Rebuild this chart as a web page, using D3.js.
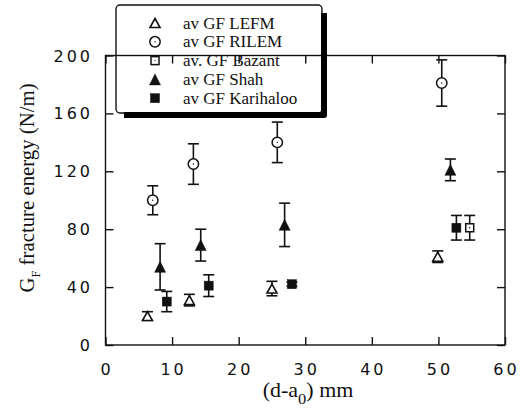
<!DOCTYPE html>
<html>
<head>
<meta charset="utf-8">
<script src="https://cdn.jsdelivr.net/npm/d3@7/dist/d3.min.js"></script>
<style>
  html, body { margin: 0; padding: 0; background: #fff; }
  svg { display: block; }
  .tick-label { font-family: "DejaVu Sans", sans-serif; font-size: 16px; letter-spacing: 3px; fill: #111; }
  .serif { font-family: "Liberation Serif", "Times New Roman", serif; fill: #111; }
</style>
</head>
<body>
<svg id="chart" width="523" height="409"></svg>
<script>
// Fracture energy G_F (N/m) versus ligament length (d - a0) in mm.
// Each point: [ligament mm, mean G_F, half-length of error bar]
const lefm      = [[6.3, 20, 3], [12.6, 31, 4], [25.0, 39, 5], [49.9, 61, 4]];
const rilem     = [[7.1, 100, 10], [13.2, 125, 14], [25.8, 140, 14], [50.5, 181, 16]];
const bazant    = [[54.7, 81, 8.5]];
const shah      = [[8.2, 54, 16], [14.3, 69, 11], [26.9, 83, 15], [51.8, 121, 7.5]];
const karihaloo = [[9.2, 30, 7], [15.5, 41, 7.5], [28.0, 42, 1.5], [52.7, 81, 8.5]];

const seriesNames = ["av GF LEFM", "av GF RILEM", "av. GF Bazant", "av GF Shah", "av GF Karihaloo"];
const xTicks = [0, 10, 20, 30, 40, 50, 60];
const yTicks = [0, 40, 80, 120, 160, 200];

const series = [
  { name: seriesNames[0], data: lefm,      shape: "triangle", filled: false },
  { name: seriesNames[1], data: rilem,     shape: "circle",   filled: false },
  { name: seriesNames[2], data: bazant,    shape: "square",   filled: false },
  { name: seriesNames[3], data: shah,      shape: "triangle", filled: true },
  { name: seriesNames[4], data: karihaloo, shape: "square",   filled: true }
];

const svg = d3.select("#chart");
const plot = { left: 105.5, right: 505, top: 55.5, bottom: 345 };

const x = d3.scaleLinear().domain([0, 60]).range([plot.left, plot.right]);
const y = d3.scaleLinear().domain([0, 200]).range([plot.bottom, plot.top]);

const ink = "#111";

// Frame with inward ticks on all four sides
const tickLen = 8;
const axes = svg.append("g").attr("stroke", ink).attr("fill", "none");
axes.append("rect")
  .attr("x", plot.left).attr("y", plot.top)
  .attr("width", plot.right - plot.left).attr("height", plot.bottom - plot.top)
  .attr("stroke-width", 1.4);

const bottomAxis = d3.axisBottom(x).tickValues(xTicks).tickSize(-tickLen).tickFormat("");
const topAxis = d3.axisTop(x).tickValues(xTicks).tickSize(-tickLen).tickFormat("");
const leftAxis = d3.axisLeft(y).tickValues(yTicks).tickSize(-tickLen).tickFormat("");
const rightAxis = d3.axisRight(y).tickValues(yTicks).tickSize(-tickLen).tickFormat("");

function styleAxis(g) {
  g.select(".domain").remove();
  g.selectAll(".tick line").attr("stroke", ink).attr("stroke-width", 1.4);
}
svg.append("g").attr("transform", `translate(0,${plot.bottom})`).call(bottomAxis).call(styleAxis);
svg.append("g").attr("transform", `translate(0,${plot.top})`).call(topAxis).call(styleAxis);
svg.append("g").attr("transform", `translate(${plot.left},0)`).call(leftAxis).call(styleAxis);
svg.append("g").attr("transform", `translate(${plot.right},0)`).call(rightAxis).call(styleAxis);

// Tick labels
svg.append("g").selectAll("text").data(xTicks).join("text")
  .attr("class", "tick-label")
  .attr("x", d => x(d) + 1.5)
  .attr("y", 375)
  .attr("text-anchor", "middle")
  .text(d => d);

svg.append("g").selectAll("text").data(yTicks).join("text")
  .attr("class", "tick-label")
  .attr("x", 93)
  .attr("y", d => y(d) + 6)
  .attr("text-anchor", "end")
  .text(d => d);

// Axis titles
const xTitle = svg.append("text").attr("class", "serif")
  .attr("transform", "translate(308,397) scale(1.1,1)")
  .attr("text-anchor", "middle").style("font-size", "20px");
xTitle.append("tspan").text("(d-a");
xTitle.append("tspan").attr("dy", 7).style("font-size", "15px").text("0");
xTitle.append("tspan").attr("dy", -7).text(") mm");

const yTitle = svg.append("text").attr("class", "serif")
  .attr("transform", "translate(34,188) rotate(-90) scale(1.04,1)")
  .attr("text-anchor", "middle").style("font-size", "20px");
yTitle.append("tspan").text("G");
yTitle.append("tspan").attr("dy", 6).style("font-size", "12px").text("F");
yTitle.append("tspan").attr("dy", -6).text(" fracture energy (N/m)");

// Marker drawing
function drawMarker(g, shape, filled, cx, cy) {
  const fill = filled ? ink : "#fff";
  if (shape === "circle") {
    g.append("circle").attr("cx", cx).attr("cy", cy).attr("r", 5.2)
      .attr("fill", fill).attr("stroke", ink).attr("stroke-width", 1.5);
    g.append("circle").attr("cx", cx).attr("cy", cy).attr("r", 0.7).attr("fill", ink);
  } else if (shape === "square") {
    const s = filled ? 9 : 8;
    g.append("rect").attr("x", cx - s / 2).attr("y", cy - s / 2).attr("width", s).attr("height", s)
      .attr("fill", fill).attr("stroke", ink).attr("stroke-width", filled ? 0.5 : 1.5);
    if (!filled) g.append("circle").attr("cx", cx).attr("cy", cy).attr("r", 0.7).attr("fill", ink);
  } else {
    const h = filled ? 11 : 9, w = filled ? 11 : 10;
    const pts = [[cx, cy - h / 2], [cx + w / 2, cy + h / 2], [cx - w / 2, cy + h / 2]];
    g.append("path").attr("d", d3.line()(pts) + "Z")
      .attr("fill", fill).attr("stroke", ink).attr("stroke-width", filled ? 0.5 : 1.6)
      .attr("stroke-linejoin", "miter");
  }
}

// Error bars and points
const marks = svg.append("g");
const capHalf = 5.5;
series.forEach(s => {
  s.data.forEach(([dx, dy, e]) => {
    const g = marks.append("g");
    const cx = x(dx), yTop = y(dy + e), yBot = y(dy - e);
    g.append("line").attr("x1", cx).attr("x2", cx).attr("y1", yTop).attr("y2", yBot)
      .attr("stroke", ink).attr("stroke-width", 1.6);
    [yTop, yBot].forEach(yy => g.append("line")
      .attr("x1", cx - capHalf).attr("x2", cx + capHalf).attr("y1", yy).attr("y2", yy)
      .attr("stroke", ink).attr("stroke-width", 1.6));
    drawMarker(g, s.shape, s.filled, cx, y(dy));
  });
});

// Legend box: thin rounded outline with a heavy shadow along the right and bottom
const lg = svg.append("g");
const box = { x: 116, y: 5, w: 206, h: 108 };
lg.append("rect").attr("x", box.x).attr("y", box.y).attr("width", box.w).attr("height", box.h)
  .attr("rx", 4).attr("fill", "none").attr("stroke", ink).attr("stroke-width", 1.4);
const shadow = d3.path();
shadow.moveTo(box.x + box.w + 2, box.y + 8);
shadow.lineTo(box.x + box.w + 2, box.y + box.h + 2);
shadow.lineTo(box.x + 8, box.y + box.h + 2);
lg.append("path").attr("d", shadow.toString())
  .attr("fill", "none").attr("stroke", "#000").attr("stroke-width", 6)
  .attr("stroke-linejoin", "round").attr("stroke-linecap", "butt");

series.forEach((s, i) => {
  const cy = 23 + i * 18.8;
  drawMarker(lg, s.shape, s.filled, 155, cy);
  lg.append("text").attr("class", "serif")
    .attr("x", 183).attr("y", cy + 5.5)
    .style("font-size", "17px")
    .text(s.name);
});
</script>
</body>
</html>
